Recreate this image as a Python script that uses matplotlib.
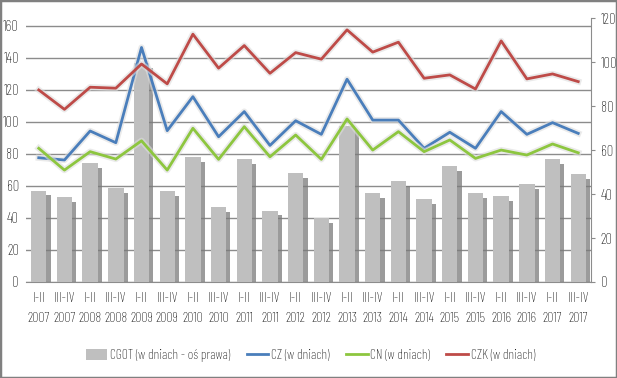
import matplotlib
matplotlib.use("Agg")
import matplotlib.pyplot as plt
import matplotlib.patheffects as pe
from matplotlib.patches import Rectangle, Patch
from matplotlib.lines import Line2D
import numpy as np

plt.rcParams['font.family'] = ['Barlow Condensed', 'DejaVu Sans']
plt.rcParams['font.weight'] = 'light'

halves = ["I-II", "III-IV"] * 11
years = [str(y) for y in range(2007, 2018) for _ in range(2)]
tick_labels = [f"{h}\n{y}" for h, y in zip(halves, years)]

cgot = [41.6, 38.6, 53.9, 42.7, 99.6, 41.3, 56.7, 34.0, 55.8, 32.5, 49.4,
        28.9, 70.9, 40.3, 46.0, 37.8, 52.7, 40.3, 39.2, 44.4, 55.8, 49.1]
cz = [77.5, 76.1, 94.2, 86.9, 146.3, 94.4, 115.6, 90.6, 106.3, 85.2, 100.6,
      92.1, 126.5, 101.0, 101.0, 83.4, 93.4, 83.4, 106.3, 92.1, 99.4, 92.7]
cn = [83.4, 69.8, 81.3, 76.7, 88.1, 69.8, 95.9, 76.5, 96.9, 78.1, 91.7,
      76.5, 101.7, 82.3, 93.8, 81.3, 88.6, 77.1, 82.3, 79.2, 86.1, 80.6]
czk = [119.8, 107.7, 121.5, 120.9, 136.0, 123.6, 154.6, 133.4, 147.5, 130.2, 143.1,
       139.0, 157.3, 143.4, 149.6, 127.1, 129.2, 120.4, 150.4, 126.7, 129.8, 125.0]

x = np.arange(len(tick_labels))

fig = plt.figure(figsize=(6.17, 3.78), dpi=100)
pos = [0.042, 0.254, 0.916, 0.698]
ax = fig.add_axes(pos)
ax2 = ax.twinx()
ax3 = ax.twinx()

# left axis (grid + labels)
ax.set_ylim(0, 164.6)
ax.set_yticks(range(0, 161, 20))
ax.grid(axis='y', color='#8c8c8c', linewidth=1)
ax.set_axisbelow(True)
ax.set_xlim(-0.5, len(x) - 0.5)
ax.set_xticks(x)
ax.set_xticklabels(tick_labels, fontsize=10, linespacing=1.75)
ax.tick_params(axis='y', length=0, pad=5, labelsize=10.5)
ax.tick_params(axis='x', length=0, pad=7)
for s in ['left', 'top', 'right']:
    ax.spines[s].set_visible(False)
ax.spines['bottom'].set_color('#8c8c8c')

# bars on right axis
bar_color = '#BFBFBF'
bars = ax2.bar(x, cgot, width=0.6, color=bar_color)
for b in bars:
    b.set_path_effects([pe.SimplePatchShadow(offset=(3, -3.5), shadow_rgbFace='#7a7a7a', alpha=0.75),
                        pe.Normal()])
ax2.set_ylim(0, 120)
ax2.set_yticks(range(0, 121, 20))
ax2.tick_params(axis='y', length=3, pad=4, labelsize=10.5, color='#8c8c8c')
for s in ['left', 'top', 'bottom']:
    ax2.spines[s].set_visible(False)
ax2.spines['right'].set_color('#8c8c8c')
ax2.patch.set_visible(False)

# lines on left scale
ax3.set_ylim(ax.get_ylim())
ax3.set_yticks([])
for s in ax3.spines.values():
    s.set_visible(False)
ax3.patch.set_visible(False)
glow = [pe.Stroke(linewidth=4.5, foreground='#dddddd', alpha=0.6), pe.Normal()]
ax3.plot(x, cz, color='#4A7EBB', lw=2, path_effects=glow)
ax3.plot(x, cn, color='#8DC63F', lw=2, path_effects=glow)
ax3.plot(x, czk, color='#BE4B48', lw=2, path_effects=glow)

bar_handle = Patch(facecolor=bar_color, label='CGOT (w dniach - oś prawa)')
h1 = Line2D([], [], color='#4A7EBB', lw=2, label='CZ (w dniach)')
h2 = Line2D([], [], color='#8DC63F', lw=2, label='CN (w dniach)')
h3 = Line2D([], [], color='#BE4B48', lw=2, label='CZK (w dniach)')
fig.legend(handles=[bar_handle, h1, h2, h3], loc='center', bbox_to_anchor=(0.503, 0.059),
           ncol=4, frameon=False, fontsize=9.8, handlelength=1.6, handletextpad=0.2,
           columnspacing=1.2, handleheight=0.9)

fig.patches.append(Rectangle((0, 0), 1, 1, transform=fig.transFigure, fill=False,
                             edgecolor='#808080', linewidth=2.5))

fig.savefig('out.png', dpi=100)
